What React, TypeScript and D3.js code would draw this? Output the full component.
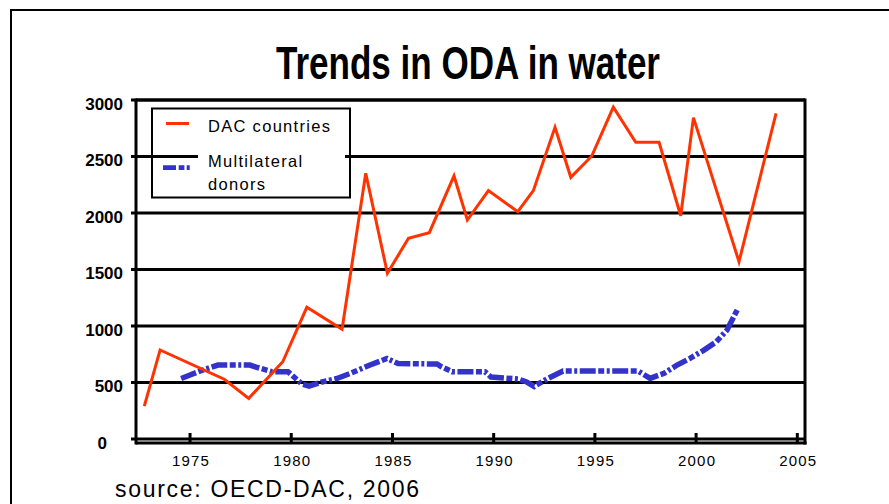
import React from "react";
import * as d3 from "d3";

// DAC bilateral water ODA (US$ million), fractional years as digitised
const dacYears = [1972.74, 1973.52, 1976.69, 1977.9, 1979.58, 1980.77, 1982.51, 1983.68, 1984.75, 1985.79, 1986.82, 1988.04, 1988.7, 1989.74, 1991.19, 1991.96, 1993.03, 1993.81, 1994.85, 1995.91, 1997.02, 1998.17, 1999.24, 1999.87, 2002.12, 2003.95];
const dacValues = [292, 788, 529, 360, 684, 1166, 971, 2351, 1467, 1776, 1826, 2328, 1938, 2198, 2012, 2198, 2759, 2316, 2505, 2936, 2626, 2626, 1976, 2844, 1569, 2882];

// Multilateral donors
const mulYears = [1974.56, 1975.0, 1975.64, 1976.38, 1977.96, 1978.26, 1979.05, 1979.84, 1980.53, 1980.88, 1981.52, 1982.26, 1982.91, 1983.89, 1984.73, 1985.28, 1987.2, 1987.4, 1987.94, 1989.57, 1989.87, 1991.21, 1991.6, 1992.0, 1992.69, 1993.43, 1997.13, 1997.73, 1998.42, 1999.06, 1999.7, 2000.35, 2000.99, 2001.53, 2002.03];
const mulValues = [536, 567, 611, 655, 655, 637, 596, 596, 487, 469, 505, 536, 580, 655, 713, 668, 664, 642, 596, 596, 549, 531, 507, 465, 537, 602, 602, 537, 582, 655, 714, 783, 859, 965, 1142];

const yTicks = [0, 500, 1000, 1500, 2000, 2500, 3000];
const xTicks = [1975, 1980, 1985, 1990, 1995, 2000, 2005];

const seriesNames = ["DAC countries", "Multilateral donors"];

const RED = "#ff3300";
const BLUE = "#3333cc";
const FONT = "'Liberation Sans', Arial, Helvetica, sans-serif";

export default function App() {
  const left = 136, right = 805, top = 100, bottom = 443;

  const x = d3.scaleLinear().domain([1972.33, 2005.38]).range([left, right]);
  const y = d3.scaleLinear().domain([-35, 3000]).range([bottom, top]);

  const line = d3
    .line<[number, number]>()
    .x((d) => x(d[0]))
    .y((d) => y(d[1]));

  const dacPath = line(dacYears.map((yr, i) => [yr, dacValues[i]]) as [number, number][]) || "";
  const mulPath = line(mulYears.map((yr, i) => [yr, mulValues[i]]) as [number, number][]) || "";

  const dash = "16 2.5 6 2.5 3 2.5";

  return (
    <svg
      width={889}
      height={504}
      style={{ position: "absolute", left: 0, top: 0, background: "#fff" }}
      fontFamily={FONT}
    >
      <rect x={0} y={0} width={889} height={504} fill="#fff" />
      {/* outer frame */}
      <rect x={11} y={10} width={900} height={520} fill="none" stroke="#000" strokeWidth={2} />

      <text
        x={276}
        y={79}
        fontSize={46}
        fontWeight="bold"
        textLength={384}
        lengthAdjust="spacingAndGlyphs"
      >
        Trends in ODA in water
      </text>

      {/* horizontal grid lines */}
      {yTicks.map((v) => (
        <line key={"g" + v} x1={131} x2={right} y1={y(v)} y2={y(v)} stroke="#000" strokeWidth={3} />
      ))}

      {/* y labels */}
      {yTicks.map((v) => (
        <text
          key={"yl" + v}
          x={v === 0 ? 107 : 123}
          y={y(v) + 4}
          textAnchor="end"
          dominantBaseline="central"
          fontSize={17}
          fontWeight="bold"
        >
          {v}
        </text>
      ))}

      {/* plot frame */}
      <line x1={left} x2={right} y1={top} y2={top} stroke="#000" strokeWidth={3} />
      <line x1={left} x2={right + 1.5} y1={bottom} y2={bottom} stroke="#000" strokeWidth={3} />
      <line x1={left} x2={left} y1={top - 1.5} y2={bottom + 1.5} stroke="#000" strokeWidth={3} />
      <line x1={right} x2={right} y1={top - 1.5} y2={bottom + 1.5} stroke="#000" strokeWidth={3} />

      {/* x ticks and labels */}
      {xTicks.map((t) => (
        <g key={"xt" + t}>
          <line x1={x(t)} x2={x(t)} y1={bottom} y2={bottom - 10} stroke="#000" strokeWidth={3} />
          <text x={x(t) + 1} y={466} textAnchor="middle" fontSize={15} letterSpacing={1.2}>
            {t}
          </text>
        </g>
      ))}

      {/* legend */}
      <rect x={198} y={110} width={147} height={86} fill="#fff" />
      <rect x={152} y={108.5} width={198} height={89} fill="none" stroke="#000" strokeWidth={2} />
      <line x1={166} x2={189} y1={123.5} y2={123.5} stroke={RED} strokeWidth={3} />
      <text x={208} y={131.5} fontSize={16.5} letterSpacing={1.3}>
        {seriesNames[0]}
      </text>
      <line x1={163} x2={191} y1={167.7} y2={167.7} stroke={BLUE} strokeWidth={4.7} strokeDasharray="13 2.7 5.7 2.3 3 10" />
      <text x={208} y={166.7} fontSize={16.5} letterSpacing={1.3}>
        {seriesNames[1].split(" ")[0]}
      </text>
      <text x={208} y={190} fontSize={16.5} letterSpacing={1.3}>
        {seriesNames[1].split(" ")[1]}
      </text>

      {/* series */}
      <path d={mulPath} fill="none" stroke={BLUE} strokeWidth={5.5} strokeDasharray={dash} />
      <path d={dacPath} fill="none" stroke={RED} strokeWidth={3} strokeLinejoin="miter" />

      <text x={115} y={497} fontSize={23} letterSpacing={1.7}>
        source: OECD-DAC, 2006
      </text>
    </svg>
  );
}
